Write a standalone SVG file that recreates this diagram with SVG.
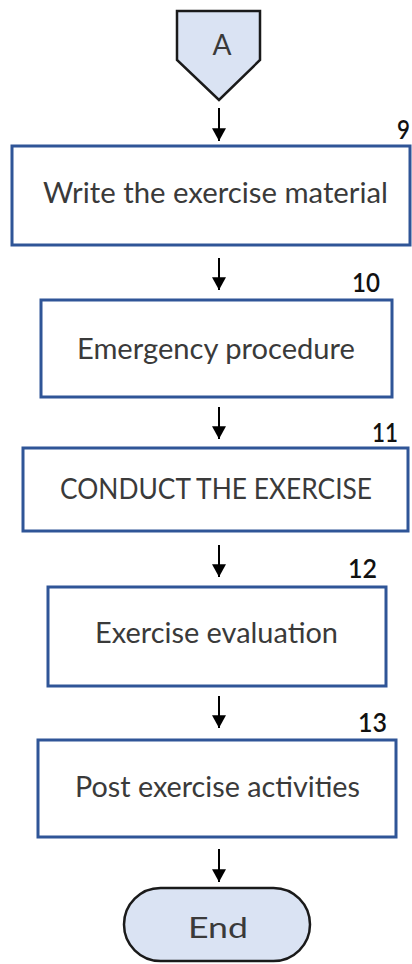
<svg xmlns="http://www.w3.org/2000/svg" width="412" height="964" viewBox="0 0 412 964">
<defs>
<marker id="ah" viewBox="0 0 10 11" refX="10" refY="5.5" markerWidth="15" markerHeight="14" markerUnits="userSpaceOnUse" orient="auto">
<path d="M0,0 L10,5.5 L0,11 z" fill="#000"/>
</marker>
</defs>
<style>
.box{fill:#fff;stroke:#2f5597;stroke-width:3}
.term{fill:#dae3f3;stroke:#1a1a1a;stroke-width:2.5}
.lbl{font-family:Lato,"Noto Sans","DejaVu Sans",sans-serif;font-size:28px;fill:#3a3a3a;text-anchor:middle}
.num{font-family:Lato,"Noto Sans","DejaVu Sans",sans-serif;font-size:26px;font-weight:600;fill:#111}
.con{stroke:#000;stroke-width:2;fill:none;marker-end:url(#ah)}
</style>
<rect width="412" height="964" fill="#fff"/>
<g id="connectors">
<line class="con" x1="219" y1="108" x2="219" y2="141"/>
<line class="con" x1="219" y1="258" x2="219" y2="290"/>
<line class="con" x1="219" y1="407" x2="219" y2="439"/>
<line class="con" x1="219" y1="545" x2="219" y2="577"/>
<line class="con" x1="219" y1="696" x2="219" y2="728"/>
<line class="con" x1="219" y1="849" x2="219" y2="882"/>
</g>
<g id="nodeA">
<polygon class="term" points="177,11 260,11 260,60 219,100 177,60"/>
<text class="lbl" x="222" y="55" font-size="26" textLength="19" lengthAdjust="spacingAndGlyphs">A</text>
</g>
<g id="node9">
<rect class="box" x="12" y="146" width="398" height="99"/>
<text class="lbl" x="215.5" y="203" textLength="345" lengthAdjust="spacingAndGlyphs">Write the exercise material</text>
<text class="num" x="397" y="139" textLength="13" lengthAdjust="spacingAndGlyphs">9</text>
</g>
<g id="node10">
<rect class="box" x="41" y="300" width="351" height="97"/>
<text class="lbl" x="216" y="359" textLength="278" lengthAdjust="spacingAndGlyphs">Emergency procedure</text>
<text class="num" x="352" y="292" textLength="28" lengthAdjust="spacingAndGlyphs">10</text>
</g>
<g id="node11">
<rect class="box" x="23" y="448" width="385" height="83"/>
<text class="lbl" x="216" y="499" textLength="312" lengthAdjust="spacingAndGlyphs">CONDUCT THE EXERCISE</text>
<text class="num" x="372" y="442" textLength="26" lengthAdjust="spacingAndGlyphs">11</text>
</g>
<g id="node12">
<rect class="box" x="48" y="587" width="338" height="99"/>
<text class="lbl" x="216.5" y="643" textLength="243" lengthAdjust="spacingAndGlyphs">Exercise evaluation</text>
<text class="num" x="348" y="578" textLength="29" lengthAdjust="spacingAndGlyphs">12</text>
</g>
<g id="node13">
<rect class="box" x="38" y="740" width="358" height="97"/>
<text class="lbl" x="217.5" y="797" textLength="285" lengthAdjust="spacingAndGlyphs">Post exercise activities</text>
<text class="num" x="358" y="732" textLength="29" lengthAdjust="spacingAndGlyphs">13</text>
</g>
<g id="nodeEnd">
<rect class="term" x="124" y="888" width="186" height="73" rx="36.5" ry="36.5"/>
<text class="lbl" x="218" y="938" font-size="37" textLength="60" lengthAdjust="spacingAndGlyphs">End</text>
</g>
</svg>
